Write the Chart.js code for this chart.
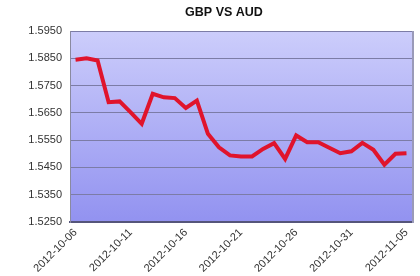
<!DOCTYPE html>
<html>
<head>
<meta charset="utf-8">
<script src="https://cdn.jsdelivr.net/npm/chart.js@4/dist/chart.umd.min.js"></script>
<style>
html,body{margin:0;padding:0;background:#fff;}
#wrap{width:420px;height:276px;}
</style>
</head>
<body>
<div id="wrap"><canvas id="c" width="420" height="276"></canvas></div>
<script>
const dates = [
  "2012-10-06","2012-10-07","2012-10-08","2012-10-09","2012-10-10",
  "2012-10-11","2012-10-12","2012-10-13","2012-10-14","2012-10-15",
  "2012-10-16","2012-10-17","2012-10-18","2012-10-19","2012-10-20",
  "2012-10-21","2012-10-22","2012-10-23","2012-10-24","2012-10-25",
  "2012-10-26","2012-10-27","2012-10-28","2012-10-29","2012-10-30",
  "2012-10-31","2012-11-01","2012-11-02","2012-11-03","2012-11-04",
  "2012-11-05"
];
const gbpAud = [
  1.5845, 1.5850, 1.5842, 1.5689, 1.5692,
  1.5652, 1.5610, 1.5720, 1.5707, 1.5704,
  1.5668, 1.5695, 1.5573, 1.5524, 1.5494,
  1.5490, 1.5490, 1.5518, 1.5539, 1.5481,
  1.5567, 1.5542, 1.5542, 1.5522, 1.5502,
  1.5509, 1.5540, 1.5515, 1.5460, 1.5500,
  1.5502
];
const yTicks = [1.5250, 1.5350, 1.5450, 1.5550, 1.5650, 1.5750, 1.5850, 1.5950];
const titleText = "GBP VS AUD";

const bgPlugin = {
  id: 'plotBg',
  afterLayout(chart) {
    if (chart.titleBlock) { chart.titleBlock.left = 36; }
  },
  beforeDraw(chart) {
    const {ctx, chartArea: a} = chart;
    ctx.save();
    const g = ctx.createLinearGradient(0, a.top, 0, a.bottom);
    g.addColorStop(0, '#cccdfb');
    g.addColorStop(1, '#9292f0');
    ctx.fillStyle = g;
    ctx.fillRect(a.left, a.top, a.right - a.left, a.bottom - a.top);
    ctx.restore();
  },
  afterDatasetsDraw(chart) {
    const {ctx, chartArea: a} = chart;
    ctx.save();
    ctx.strokeStyle = '#9a9ab8';
    ctx.lineWidth = 2;
    ctx.beginPath();
    ctx.moveTo(a.right + 1, a.top);
    ctx.lineTo(a.right + 1, a.bottom + 1);
    ctx.stroke();
    ctx.restore();
  }
};

new Chart(document.getElementById('c'), {
  type: 'line',
  data: {
    labels: dates,
    datasets: [{
      data: gbpAud,
      borderColor: '#e0142c',
      borderWidth: 4,
      pointRadius: 0,
      tension: 0,
      fill: false
    }]
  },
  plugins: [bgPlugin],
  options: {
    responsive: false,
    animation: false,
    devicePixelRatio: 1,
    layout: { padding: { left: 0, right: 8, top: 0, bottom: 0 } },
    plugins: {
      legend: { display: false },
      tooltip: { enabled: false },
      title: {
        display: true,
        text: titleText,
        color: '#111',
        font: { family: 'Arial, "Liberation Sans", sans-serif', size: 12.5, weight: 'bold' },
        padding: { top: 5, bottom: 11 }
      }
    },
    scales: {
      x: {
        offset: true,
        grid: { display: false, drawTicks: false },
        border: { display: true, color: '#55557a', width: 2 },
        afterFit(s) { s.height = 54; },
        ticks: {
          autoSkip: false,
          maxRotation: 45,
          minRotation: 45,
          padding: 4,
          color: '#333',
          font: { family: 'Arial, "Liberation Sans", sans-serif', size: 11 },
          callback(v, i) { return i % 5 === 0 ? dates[i] : null; }
        }
      },
      y: {
        min: yTicks[0],
        max: yTicks[yTicks.length - 1],
        afterBuildTicks(s) { s.ticks = yTicks.map(v => ({ value: v })); },
        afterFit(s) { s.width = 70; },
        grid: { color: '#7c7ca6', lineWidth: 1, drawTicks: false },
        border: { display: true, color: '#8a8aa0', width: 1 },
        ticks: {
          padding: 8,
          color: '#333',
          font: { family: 'Arial, "Liberation Sans", sans-serif', size: 11 },
          callback(v) { return Number(v).toFixed(4); }
        }
      }
    }
  }
});
</script>
</body>
</html>
